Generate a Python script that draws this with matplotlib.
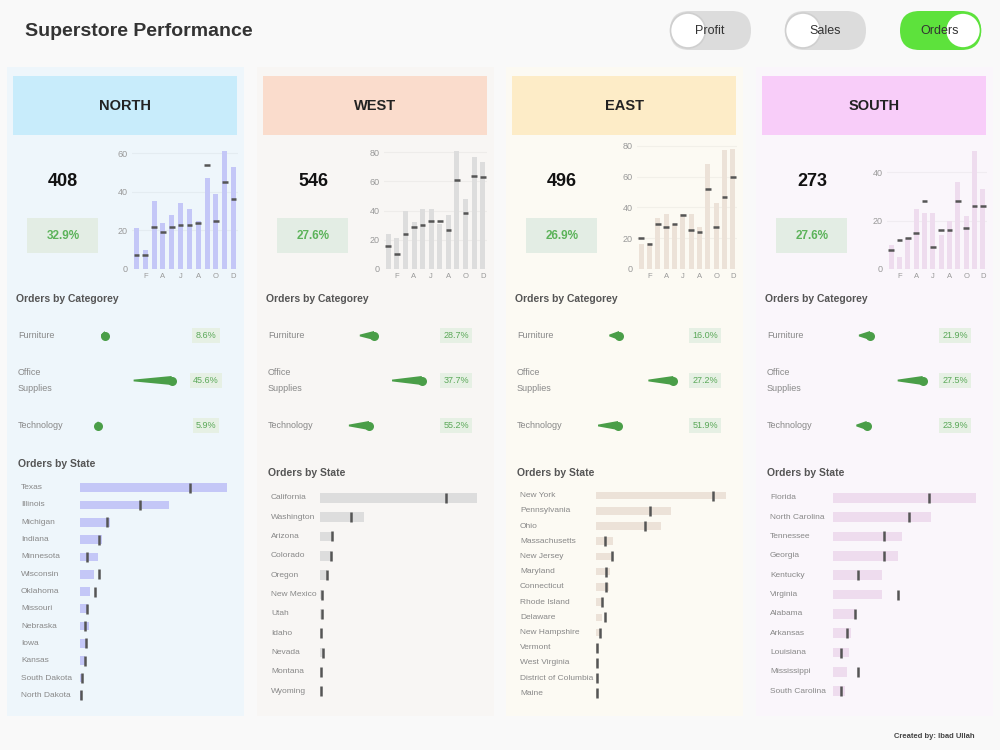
import matplotlib
matplotlib.use("Agg")
import matplotlib.pyplot as plt
import matplotlib.transforms as mtransforms
from matplotlib.patches import Rectangle, FancyBboxPatch, Circle, Polygon

plt.rcParams['font.family'] = ['Liberation Sans Narrow', 'Liberation Sans', 'DejaVu Sans']

# ---- data ----
regions = ["NORTH", "WEST", "EAST", "SOUTH"]
orders_total = [408, 546, 496, 273]
orders_growth = [32.9, 27.6, 26.9, 27.6]

month_labels = ["F", "A", "J", "A", "O", "D"]
north_monthly = [21, 10, 35, 24, 28, 34, 31, 25, 47, 39, 61, 53]
north_monthly_prev = [7, 7, 22, 19, 22, 23, 23, 24, 54, 25, 45, 36]
west_monthly = [24, 21, 40, 32, 41, 41, 31, 37, 81, 48, 77, 73]
west_monthly_prev = [16, 10, 24, 29, 30, 33, 33, 27, 61, 38, 64, 63]
east_monthly = [16, 17, 33, 36, 29, 36, 36, 27, 68, 43, 77, 78]
east_monthly_prev = [20, 16, 29, 27, 29, 35, 25, 24, 52, 27, 47, 60]
south_monthly = [10, 5, 13, 25, 23, 23, 14, 20, 36, 22, 49, 33]
south_monthly_prev = [8, 12, 13, 15, 28, 9, 16, 16, 28, 17, 26, 26]

categories = ["Furniture", "Office\nSupplies", "Technology"]
north_cat = [99, 222, 87]
north_cat_prev = [92, 152, 82]
north_cat_pct = [8.6, 45.6, 5.9]
west_cat = [148, 262, 136]
west_cat_prev = [114, 191, 88]
west_cat_pct = [28.7, 37.7, 55.2]
east_cat = [129, 240, 127]
east_cat_prev = [109, 189, 86]
east_cat_pct = [16.0, 27.2, 51.9]
south_cat = [72, 133, 68]
south_cat_prev = [59, 104, 56]
south_cat_pct = [21.9, 27.5, 23.9]

north_states = ["Texas", "Illinois", "Michigan", "Indiana", "Minnesota", "Wisconsin",
                "Oklahoma", "Missouri", "Nebraska", "Iowa", "Kansas", "South Dakota",
                "North Dakota"]
north_state_orders = [166, 101, 34, 25, 20, 16, 11, 9, 10, 7, 6, 2, 1]
north_state_prev = [124, 68, 31, 21, 8, 21, 17, 8, 6, 7, 6, 2, 1]
west_states = ["California", "Washington", "Arizona", "Colorado", "Oregon", "New Mexico",
               "Utah", "Idaho", "Nevada", "Montana", "Wyoming"]
west_state_orders = [359, 100, 27, 25, 17, 5, 2, 1, 8, 1, 1]
west_state_prev = [289, 72, 28, 25, 16, 5, 5, 2, 7, 2, 2]
east_states = ["New York", "Pennsylvania", "Ohio", "Massachusetts", "New Jersey", "Maryland",
               "Connecticut", "Rhode Island", "Delaware", "New Hampshire", "Vermont",
               "West Virginia", "District of Columbia", "Maine"]
east_state_orders = [183, 105, 91, 24, 23, 20, 19, 10, 9, 6, 2, 1, 2, 1]
east_state_prev = [165, 76, 69, 12, 23, 14, 14, 9, 13, 5, 2, 1, 2, 1]
south_states = ["Florida", "North Carolina", "Tennessee", "Georgia", "Kentucky", "Virginia",
                "Alabama", "Arkansas", "Louisiana", "Mississippi", "South Carolina"]
south_state_orders = [70, 48, 34, 32, 24, 24, 11, 9, 8, 7, 6]
south_state_prev = [47, 37, 25, 25, 12, 32, 11, 7, 4, 12, 4]

monthly = [north_monthly, west_monthly, east_monthly, south_monthly]
monthly_prev = [north_monthly_prev, west_monthly_prev, east_monthly_prev, south_monthly_prev]
cat_now = [north_cat, west_cat, east_cat, south_cat]
cat_prev = [north_cat_prev, west_cat_prev, east_cat_prev, south_cat_prev]
cat_pct = [north_cat_pct, west_cat_pct, east_cat_pct, south_cat_pct]
states = [north_states, west_states, east_states, south_states]
state_orders = [north_state_orders, west_state_orders, east_state_orders, south_state_orders]
state_prev = [north_state_prev, west_state_prev, east_state_prev, south_state_prev]

# ---- layout / style ----
panel_x = [7, 257, 506, 756]
panel_bg = ['#eef6fb', '#f8f6f4', '#fcfaf3', '#faf6fb']
header_col = ['#c8ecfb', '#fadccc', '#fdecc7', '#f8cdf9']
bar_col = ['#c4c7f7', '#dddddd', '#ece2d8', '#eedcee']
spark_left = [125, 127, 131, 131]
spark_w = [106, 103, 100, 100]
spark_top = [64.2, 84.9, 80.5, 51.3]
spark_ticks = [[0, 20, 40, 60], [0, 20, 40, 60, 80], [0, 20, 40, 60, 80], [0, 20, 40]]
cat_zero = [44, 55, 50, 52]
cat_xmax = [276, 358, 307, 174]
state_left = [73, 63, 90, 77]
state_right = 220
state_box = [(479, 704), (488, 701), (488, 701), (488, 701)]
state_title_y = [464, 473, 473, 473]
GREEN = '#4a9e48'

W, H = 1000, 750
fig = plt.figure(figsize=(10, 7.5), dpi=100)
fig.patch.set_facecolor('#f9f9f9')


def px_axes(x, y, w, h):
    a = fig.add_axes([x / W, 1 - (y + h) / H, w / W, h / H])
    a.set_facecolor('none')
    return a


bg = px_axes(0, 0, W, H)
bg.set_xlim(0, W)
bg.set_ylim(H, 0)
bg.axis('off')

# title and toggles
bg.text(25, 31, "Superstore Performance", fontsize=14, weight='bold', color='#333333',
        va='center', ha='left')
toggles = [("Profit", 670, False), ("Sales", 785, False), ("Orders", 900, True)]
for name, tx, on in toggles:
    bg.add_patch(FancyBboxPatch((tx, 11), 81, 39, boxstyle='round,pad=0,rounding_size=19.5',
                                fc='#5de23c' if on else '#dcdcdc', ec='none'))
    cx = tx + 63 if on else tx + 18
    bg.add_patch(Circle((cx, 30.5), 17.5, fc='white', ec='#cfcfcf' if not on else '#5de23c', lw=1.2))
    bg.text(tx + 40, 30.5, name, fontsize=9, color='#333333', ha='center', va='center')

bg.text(975, 737, "Created by: Ibad Ullah", fontsize=5.5, weight='bold', color='#444444',
        ha='right', va='center')

for r in range(4):
    px = panel_x[r]
    bg.add_patch(Rectangle((px, 67), 237, 649, fc=panel_bg[r], ec='none'))
    bg.add_patch(Rectangle((px + 6, 76), 224, 59, fc=header_col[r], ec='none'))
    bg.text(px + 118, 106, regions[r], fontsize=10.5, weight='bold', color='#222222',
            ha='center', va='center')

    # KPI
    bg.text(px + 56, 181, str(orders_total[r]), fontsize=13, weight='bold', color='#111111',
            ha='center', va='center')
    bg.add_patch(Rectangle((px + 20, 218), 71, 35, fc='#e3ede4', ec='none'))
    bg.text(px + 56, 236, f"{orders_growth[r]}%", fontsize=8.5, weight='bold', color='#5cb35a',
            ha='center', va='center')

    # monthly bars with previous year marks
    ax = px_axes(px + spark_left[r], 145, spark_w[r], 124)
    xs = list(range(12))
    ax.bar(xs, monthly[r], width=0.58, color=bar_col[r], zorder=2)
    ax.hlines(monthly_prev[r], [x - 0.33 for x in xs], [x + 0.33 for x in xs],
              color='#555555', lw=1.8, zorder=3)
    ax.set_xlim(-0.5, 11.5)
    ax.set_ylim(0, spark_top[r])
    ax.set_yticks(spark_ticks[r])
    ax.set_xticks([1, 3, 5, 7, 9, 11])
    ax.set_xticklabels(month_labels)
    ax.tick_params(axis='y', labelsize=6.5, colors='#999999', length=0, pad=3)
    ax.tick_params(axis='x', labelsize=5.5, colors='#999999', length=0, pad=3)
    ax.yaxis.grid(True, color='#000000', alpha=0.04, lw=0.8)
    ax.set_axisbelow(True)
    for s in ax.spines.values():
        s.set_visible(False)

    # category comets
    bg.text(px + 9, 299, "Orders by Categorey", fontsize=7.5, weight='bold', color='#555555',
            ha='left', va='center')
    cax = px_axes(px + cat_zero[r], 313, 150, 135)
    cax.set_xlim(0, cat_xmax[r])
    cax.set_ylim(2.5, -0.5)
    cax.axis('off')
    tr = mtransforms.blended_transform_factory(bg.transData, cax.transData)
    for i, cat in enumerate(categories):
        p0, p1 = cat_prev[r][i], cat_now[r][i]
        cax.add_patch(Polygon([(p0, i - 0.02), (p1, i - 0.1), (p1, i + 0.1), (p0, i + 0.02)],
                              closed=True, fc=GREEN, ec='none'))
        cax.plot([p1], [i], 'o', ms=6.5, color=GREEN, mec='none')
        cax.text(px + 11, i, cat, transform=tr, fontsize=6.5, color='#888888',
                 ha='left', va='center', linespacing=1.9)
        cax.text(px + 199, i, f"{cat_pct[r][i]}%", transform=tr, fontsize=6.5, color='#5aa858',
                 ha='center', va='center',
                 bbox=dict(boxstyle='square,pad=0.35', fc='#e6f0e4', ec='none'))

    # states
    bg.text(px + 11, state_title_y[r], "Orders by State", fontsize=7.5, weight='bold',
            color='#555555', ha='left', va='center')
    top, bottom = state_box[r]
    sax = px_axes(px + state_left[r], top, state_right - state_left[r], bottom - top)
    n = len(states[r])
    rows = list(range(n))
    sax.barh(rows, state_orders[r], height=0.5, color=bar_col[r])
    sax.plot(state_prev[r], rows, ls='', marker='|', ms=6.5, mew=1.8, color='#555555',
             clip_on=False)
    sax.set_xlim(0, max(state_orders[r]))
    sax.set_ylim(n - 0.5, -0.5)
    sax.axis('off')
    trs = mtransforms.blended_transform_factory(bg.transData, sax.transData)
    for i, st in enumerate(states[r]):
        sax.text(px + 14, i, st, transform=trs, fontsize=6, color='#888888',
                 ha='left', va='center')

fig.savefig("out.png", dpi=100, facecolor=fig.get_facecolor())
